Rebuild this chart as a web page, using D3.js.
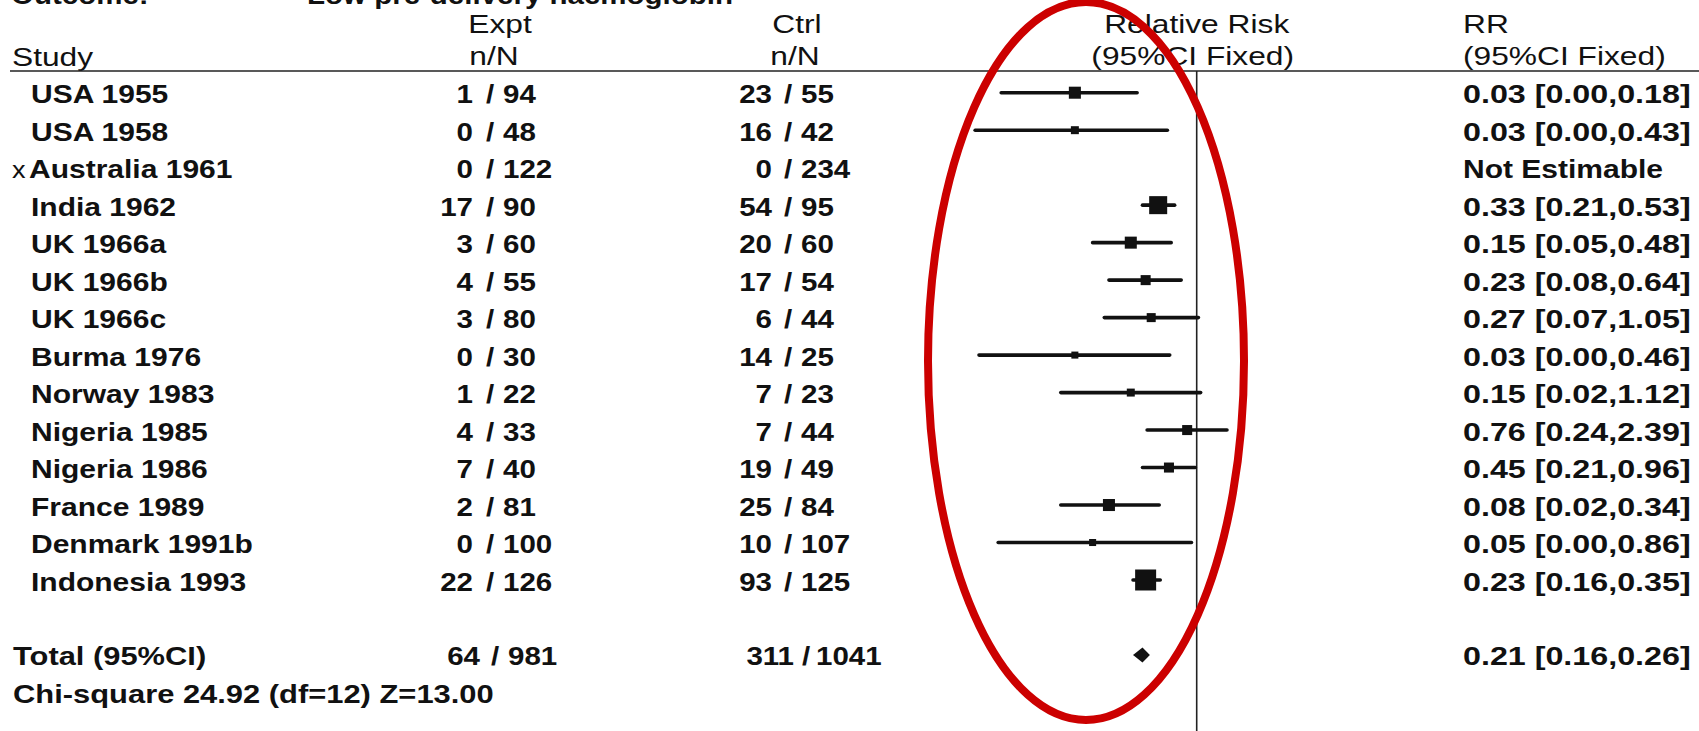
<!DOCTYPE html>
<html>
<head>
<meta charset="utf-8">
<script src="https://cdn.jsdelivr.net/npm/d3@7"></script>
<style>
  html, body { margin: 0; padding: 0; background: #ffffff; }
  svg { display: block; }
  text { font-family: "Liberation Sans", Arial, Helvetica, sans-serif; fill: #111; }
</style>
</head>
<body>
<svg id="chart" width="1699" height="731"></svg>
<script>
// ---- data ----
const outcomeLabel = "Outcome:";
const outcomeName = "Low pre-delivery haemoglobin";

const studies = ["USA 1955", "USA 1958", "Australia 1961", "India 1962", "UK 1966a", "UK 1966b",
  "UK 1966c", "Burma 1976", "Norway 1983", "Nigeria 1985", "Nigeria 1986", "France 1989",
  "Denmark 1991b", "Indonesia 1993"];
const excluded = [false, false, true, false, false, false, false, false, false, false, false, false, false, false];

const exptEvents = [1, 0, 0, 17, 3, 4, 3, 0, 1, 4, 7, 2, 0, 22];
const exptTotal  = [94, 48, 122, 90, 60, 55, 80, 30, 22, 33, 40, 81, 100, 126];
const ctrlEvents = [23, 16, 0, 54, 20, 17, 6, 14, 7, 7, 19, 25, 10, 93];
const ctrlTotal  = [55, 42, 234, 95, 60, 54, 44, 25, 23, 44, 49, 84, 107, 125];

// relative risk with 95% CI (null = not estimable)
const rr     = [0.03, 0.03, null, 0.33, 0.15, 0.23, 0.27, 0.03, 0.15, 0.76, 0.45, 0.08, 0.05, 0.23];
const ciLow  = [0.0036, 0.0017, null, 0.21, 0.05, 0.08, 0.07, 0.0019, 0.02, 0.24, 0.21, 0.02, 0.0033, 0.16];
const ciHigh = [0.18, 0.43, null, 0.53, 0.48, 0.64, 1.05, 0.46, 1.12, 2.39, 0.96, 0.34, 0.86, 0.35];
// study weights (%), shown by box area
const weights = [8.2, 3.6, 0, 18.4, 8.2, 5.7, 4.6, 2.8, 3.6, 5.7, 5.7, 8.2, 2.8, 25.0];

const totalLabel = "Total (95%CI)";
const totalExpt = [64, 981];
const totalCtrl = [311, 1041];
const totalRR = [0.21, 0.16, 0.26];   // estimate, low, high
const heterogeneity = "Chi-square 24.92 (df=12)  Z=13.00";

const headTop = ["Expt", "Ctrl", "Relative Risk", "RR"];
const headBottom = ["Study", "n/N", "n/N", "(95%CI Fixed)", "(95%CI Fixed)"];
const notEstimable = "Not Estimable";

// ---- layout ----
const W = 1699, H = 731;
const SX = 1.18;           // horizontal stretch applied to all text
const svg = d3.select("#chart");

const x = d3.scaleLog().domain([0.001, 1000]).range([956.7, 1436.7]);
const y = d3.scaleLinear().domain([0, 13]).range([92.7, 580]);
const box = d3.scaleSqrt().domain([0, 25]).range([0, 21]);
const fmt = v => v.toFixed(2);

function label(g, px, py, str, opt = {}) {
  return g.append("text")
    .attr("transform", `translate(${px},${py}) scale(${opt.sx || SX},1)`)
    .attr("text-anchor", opt.anchor || "start")
    .style("font-size", (opt.size || 25) + "px")
    .style("font-weight", opt.bold ? "bold" : "normal")
    .text(str);
}

const g = svg.append("g");

// title strip (runs off the top edge)
label(g, 11, 4, outcomeLabel, { bold: true });
label(g, 307, 4, outcomeName, { bold: true });

// column headers
const hs = { size: 26, sx: 1.22 };
label(g, 500, 33, headTop[0], { ...hs, anchor: "middle" });
label(g, 797, 33, headTop[1], { ...hs, anchor: "middle" });
label(g, x(1), 33, headTop[2], { ...hs, anchor: "middle" });
label(g, 1463, 33, headTop[3], hs);
label(g, 12, 66, headBottom[0], hs);
label(g, 494, 65, headBottom[1], { ...hs, anchor: "middle" });
label(g, 795, 65, headBottom[2], { ...hs, anchor: "middle" });
label(g, x(1) - 4, 65, headBottom[3], { ...hs, anchor: "middle" });
label(g, 1463, 65, headBottom[4], hs);

g.append("line").attr("x1", 10).attr("x2", W).attr("y1", 71).attr("y2", 71)
  .attr("stroke", "#222").attr("stroke-width", 1.6);

// line of no effect
g.append("line").attr("x1", x(1)).attr("x2", x(1)).attr("y1", 71).attr("y2", H)
  .attr("stroke", "#222").attr("stroke-width", 1.6);

const TB = 10.5; // baseline offset from row centre
const rrS = { bold: true, sx: 1.29 };

// study rows
studies.forEach((name, i) => {
  const yy = y(i);
  if (excluded[i]) label(g, 12, yy + TB, "x", { size: 23 });
  label(g, excluded[i] ? 29 : 31, yy + TB, name, { bold: true, sx: 1.2 });

  label(g, 473, yy + TB, exptEvents[i], { bold: true, anchor: "end" });
  label(g, 490, yy + TB, "/", { bold: true, anchor: "middle" });
  label(g, 503, yy + TB, exptTotal[i], { bold: true });

  label(g, 772, yy + TB, ctrlEvents[i], { bold: true, anchor: "end" });
  label(g, 788, yy + TB, "/", { bold: true, anchor: "middle" });
  label(g, 801, yy + TB, ctrlTotal[i], { bold: true });

  if (rr[i] == null) {
    label(g, 1463, yy + TB, notEstimable, { bold: true, sx: 1.2 });
    return;
  }
  label(g, 1463, yy + TB, `${fmt(rr[i])} [${fmt(ciLow[i])},${fmt(ciHigh[i])}]`, rrS);

  g.append("line")
    .attr("x1", x(ciLow[i])).attr("x2", x(ciHigh[i]))
    .attr("y1", yy).attr("y2", yy)
    .attr("stroke", "#111").attr("stroke-width", 3.6).attr("stroke-linecap", "round");
  const s = box(weights[i]);
  g.append("rect")
    .attr("x", x(rr[i]) - s / 2).attr("y", yy - s / 2)
    .attr("width", s).attr("height", s)
    .attr("fill", "#111");
});

// pooled estimate
const yT = y(15);
label(g, 13, yT + TB, totalLabel, { bold: true, sx: 1.235 });
label(g, 480, yT + TB, totalExpt[0], { bold: true, anchor: "end" });
label(g, 495, yT + TB, "/", { bold: true, anchor: "middle" });
label(g, 508, yT + TB, totalExpt[1], { bold: true });
label(g, 794, yT + TB, totalCtrl[0], { bold: true, anchor: "end" });
label(g, 806, yT + TB, "/", { bold: true, anchor: "middle" });
label(g, 816, yT + TB, totalCtrl[1], { bold: true });
label(g, 1463, yT + TB, `${fmt(totalRR[0])} [${fmt(totalRR[1])},${fmt(totalRR[2])}]`, rrS);

const dh = 7.5;
g.append("path")
  .attr("d", `M${x(totalRR[1])},${yT} L${x(totalRR[0])},${yT - dh} L${x(totalRR[2])},${yT} L${x(totalRR[0])},${yT + dh} Z`)
  .attr("fill", "#111");

label(g, 13, y(16) + TB, heterogeneity, { bold: true, sx: 1.236 });

// highlight ring around the plot column
g.append("ellipse")
  .attr("cx", 1086).attr("cy", 361).attr("rx", 158).attr("ry", 359)
  .attr("fill", "none").attr("stroke", "#cc0000").attr("stroke-width", 8);
</script>
</body>
</html>
